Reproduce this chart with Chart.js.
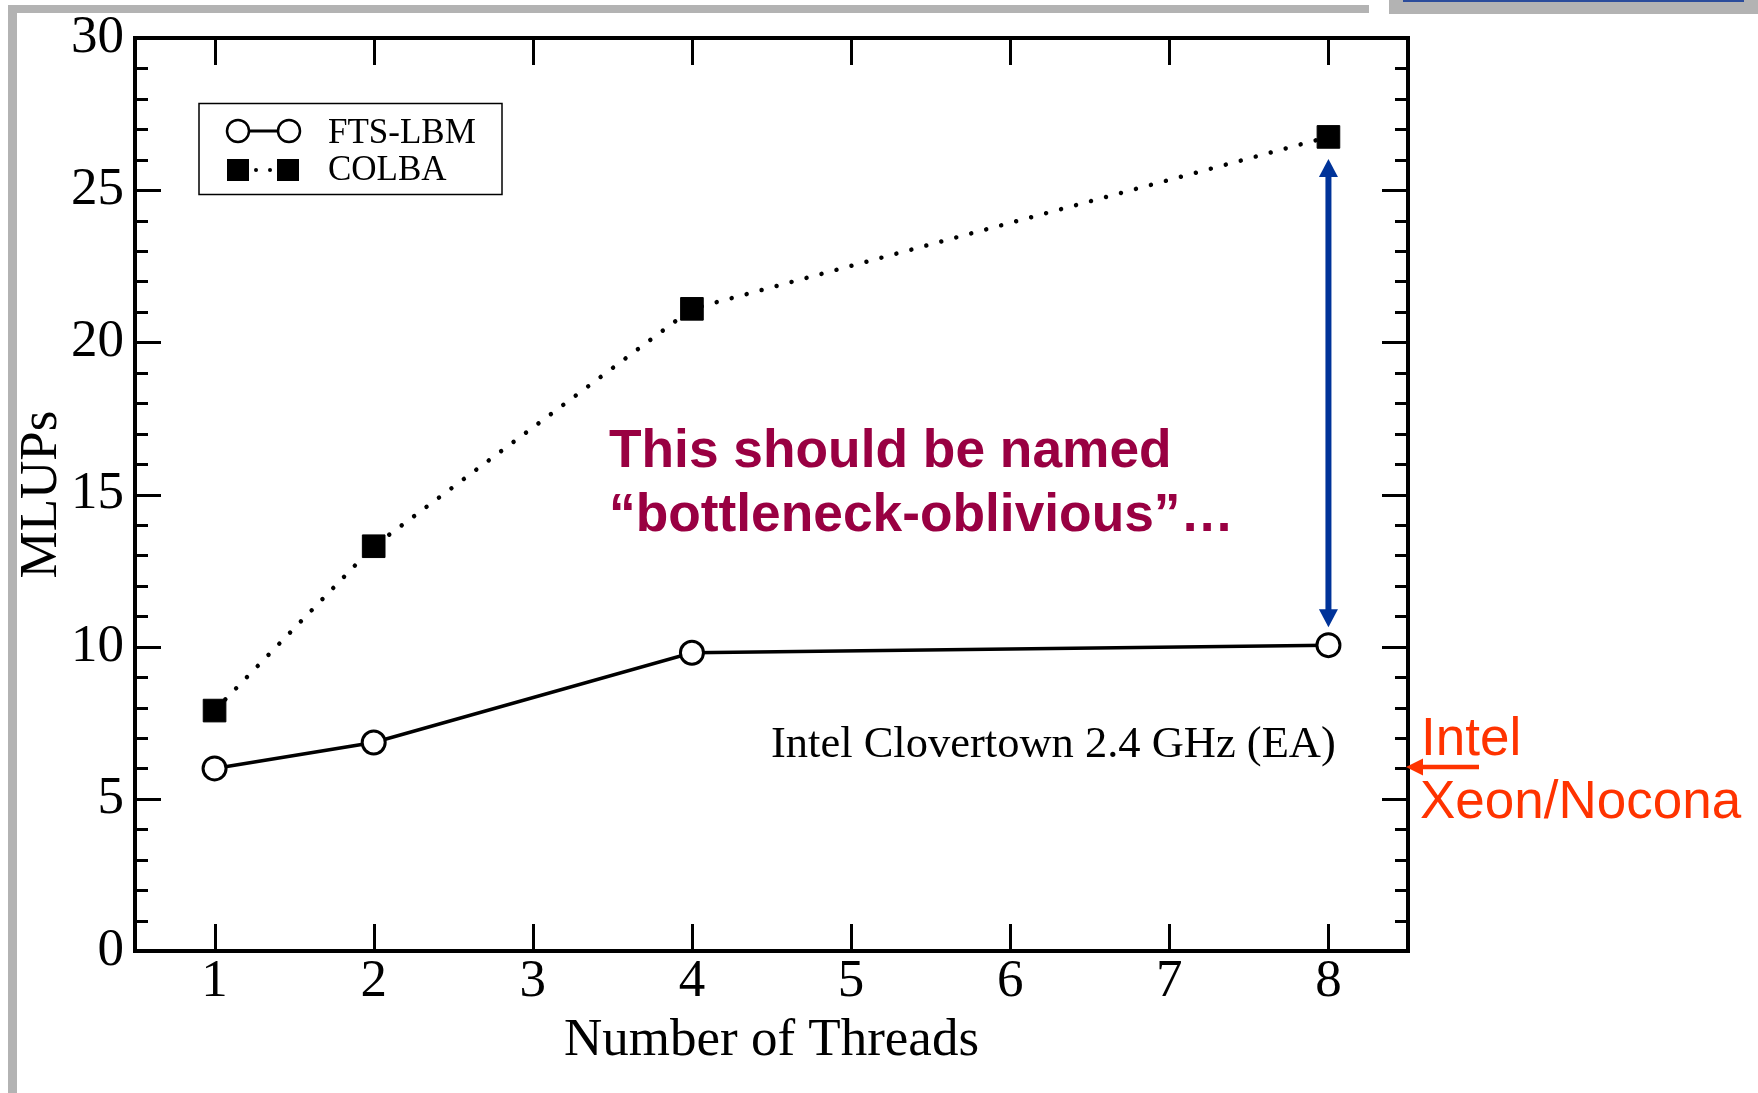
<!DOCTYPE html>
<html>
<head>
<meta charset="utf-8">
<title>MLUPs vs. Number of Threads</title>
<script src="https://cdn.jsdelivr.net/npm/chart.js@4.4.1/dist/chart.umd.min.js"></script>
<style>
  html, body { margin: 0; padding: 0; background: #fff; }
  #wrap { position: relative; width: 1758px; height: 1093px; overflow: hidden; background: #fff; }
  #c { position: absolute; left: 0; top: 0; }
  .bar { position: absolute; background: #b3b3b3; }
</style>
</head>
<body>
<div id="wrap">
  <canvas id="c" width="1758" height="1093"></canvas>
  <div class="bar" style="left:8px;top:5px;width:1361px;height:8px"></div>
  <div class="bar" style="left:8px;top:5px;width:9px;height:1088px"></div>
  <div class="bar" style="left:1389px;top:0;width:369px;height:14px"></div>
  <div style="position:absolute;left:1403px;top:0;width:341px;height:2px;background:#2b4c9b"></div>
</div>
<script>
// Measured throughput (MLUPs) per thread count
const threads = [1, 2, 4, 8];
const ftsLbm = [6.0, 6.85, 9.8, 10.05];
const colba = [7.9, 13.3, 21.1, 26.75];
const seriesNames = ['FTS-LBM', 'COLBA'];
const xTickValues = [1, 2, 3, 4, 5, 6, 7, 8];
const yTickValues = [0, 5, 10, 15, 20, 25, 30];
const yMinorStep = 1;
// Xeon/Nocona reference level on the MLUPs axis
const noconaLevel = 6.05;

const SERIF = 'Liberation Serif, Times New Roman, serif';
const SANS = 'Liberation Sans, Arial, sans-serif';

function arrowHead(ctx, tipX, tipY, dx, dy, len, half) {
  const bx = tipX - dx * len, by = tipY - dy * len;
  ctx.beginPath();
  ctx.moveTo(tipX, tipY);
  ctx.lineTo(bx - dy * half, by + dx * half);
  ctx.lineTo(bx + dy * half, by - dx * half);
  ctx.closePath();
  ctx.fill();
}

// Boxed frame with inward major/minor ticks on all four sides
const frameTicks = {
  id: 'frameTicks',
  beforeDatasetsDraw(chart) {
    const { ctx, chartArea: a, scales: { x, y } } = chart;
    ctx.save();
    ctx.strokeStyle = '#000';
    ctx.lineWidth = 3;
    ctx.lineCap = 'butt';
    ctx.beginPath();
    for (let v = y.min; v <= y.max + 1e-9; v += yMinorStep) {
      const py = Math.round(y.getPixelForValue(v)) + 0.5;
      const len = yTickValues.includes(v) ? 26 : 13;
      ctx.moveTo(a.left, py); ctx.lineTo(a.left + len, py);
      ctx.moveTo(a.right, py); ctx.lineTo(a.right - len, py);
    }
    xTickValues.forEach(v => {
      const px = Math.round(x.getPixelForValue(v)) + 0.5;
      ctx.moveTo(px, a.bottom); ctx.lineTo(px, a.bottom - 27);
      ctx.moveTo(px, a.top); ctx.lineTo(px, a.top + 27);
    });
    ctx.stroke();
    ctx.lineWidth = 4;
    ctx.strokeRect(a.left, a.top, a.right - a.left, a.bottom - a.top);
    ctx.restore();
  },
  afterDraw(chart) {
    const { ctx, chartArea: a, scales: { x, y } } = chart;
    ctx.save();

    // legend box
    ctx.strokeStyle = '#000';
    ctx.lineWidth = 1.5;
    ctx.strokeRect(199, 103.5, 303, 91);
    ctx.lineWidth = 3;
    ctx.beginPath(); ctx.moveTo(238, 131); ctx.lineTo(289, 131); ctx.stroke();
    [238, 289].forEach(cx => {
      ctx.beginPath(); ctx.arc(cx, 131, 11, 0, Math.PI * 2);
      ctx.fillStyle = '#fff'; ctx.fill();
      ctx.lineWidth = 2.5; ctx.stroke();
    });
    ctx.fillStyle = '#000';
    [238, 288].forEach(cx => ctx.fillRect(cx - 11, 159, 22, 22));
    [256, 270].forEach(cx => { ctx.beginPath(); ctx.arc(cx, 170, 2, 0, Math.PI * 2); ctx.fill(); });
    ctx.font = '35px ' + SERIF;
    ctx.textAlign = 'left';
    ctx.textBaseline = 'alphabetic';
    ctx.fillText(seriesNames[0], 328, 143);
    ctx.fillText(seriesNames[1], 328, 180);

    // machine label
    ctx.font = '44.5px ' + SERIF;
    ctx.fillText('Intel Clovertown 2.4 GHz (EA)', 771, 757);

    // highlighted remark
    ctx.fillStyle = '#990042';
    ctx.font = 'bold 53.3px ' + SANS;
    ctx.fillText('This should be named', 609, 467);
    ctx.fillText('\u201Cbottleneck-oblivious\u201D\u2026', 609, 531);

    // gap between the two series at 8 threads
    const gx = x.getPixelForValue(threads[3]);
    const topTip = y.getPixelForValue(colba[3]) + 22;
    const botTip = y.getPixelForValue(ftsLbm[3]) - 18;
    ctx.strokeStyle = '#003399';
    ctx.fillStyle = '#003399';
    ctx.lineWidth = 6;
    ctx.beginPath(); ctx.moveTo(gx, topTip + 16); ctx.lineTo(gx, botTip - 16); ctx.stroke();
    arrowHead(ctx, gx, topTip, 0, -1, 18, 9.5);
    arrowHead(ctx, gx, botTip, 0, 1, 18, 9.5);

    // Xeon/Nocona marker on the right axis
    const ny = y.getPixelForValue(noconaLevel);
    ctx.strokeStyle = '#ff3300';
    ctx.fillStyle = '#ff3300';
    ctx.lineWidth = 4.5;
    ctx.beginPath(); ctx.moveTo(a.right + 14, ny); ctx.lineTo(a.right + 71, ny); ctx.stroke();
    arrowHead(ctx, a.right - 2, ny, -1, 0, 17, 8.5);
    ctx.font = '53px ' + SANS;
    ctx.fillText('Intel', 1421, 755);
    ctx.fillText('Xeon/Nocona', 1420, 818);

    ctx.restore();
  }
};

const toPoints = vals => threads.map((t, i) => ({ x: t, y: vals[i] }));

new Chart(document.getElementById('c'), {
  type: 'line',
  data: {
    datasets: [
      {
        label: seriesNames[0],
        data: toPoints(ftsLbm),
        borderColor: '#000',
        borderWidth: 3.5,
        pointStyle: 'circle',
        pointRadius: 11.5,
        pointBorderWidth: 3,
        pointBackgroundColor: '#fff',
        pointBorderColor: '#000',
        tension: 0
      },
      {
        label: seriesNames[1],
        data: toPoints(colba),
        borderColor: '#000',
        borderWidth: 4.5,
        borderDash: [0.01, 15.5],
        borderCapStyle: 'round',
        pointStyle: 'rect',
        pointRadius: 16,
        pointBorderWidth: 1,
        pointBackgroundColor: '#000',
        pointBorderColor: '#000',
        tension: 0
      }
    ]
  },
  options: {
    responsive: false,
    animation: false,
    events: [],
    devicePixelRatio: 1,
    layout: { padding: { top: 38, right: 350, bottom: 0, left: 0 } },
    plugins: { legend: { display: false }, tooltip: { enabled: false } },
    scales: {
      x: {
        type: 'linear',
        min: 0.5,
        max: 8.5,
        afterBuildTicks: s => { s.ticks = xTickValues.map(v => ({ value: v })); },
        afterFit: s => { s.height = 142; },
        grid: { display: false },
        border: { display: false },
        ticks: { color: '#000', font: { family: SERIF, size: 53, lineHeight: 1.0 }, padding: -3, maxRotation: 0, autoSkip: false },
        title: { display: true, text: 'Number of Threads', color: '#000', font: { family: SERIF, size: 53 }, padding: { top: 0, bottom: 20 } }
      },
      y: {
        type: 'linear',
        min: 0,
        max: 30,
        afterBuildTicks: s => { s.ticks = yTickValues.map(v => ({ value: v })); },
        afterFit: s => { s.width = 135; },
        grid: { display: false },
        border: { display: false },
        ticks: { color: '#000', font: { family: SERIF, size: 53, lineHeight: 0.75 }, padding: 3 },
        title: { display: true, text: 'MLUPs', color: '#000', font: { family: SERIF, size: 53 }, padding: { top: 10, bottom: 0 } }
      }
    }
  },
  plugins: [frameTicks]
});
</script>
</body>
</html>
